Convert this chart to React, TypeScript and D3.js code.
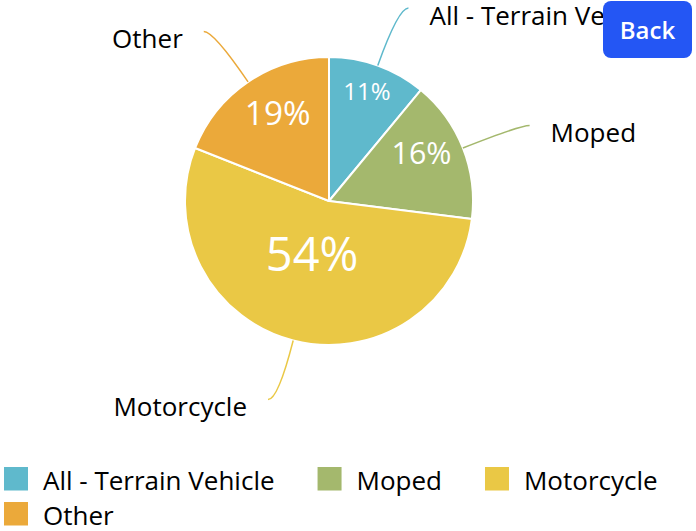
import { useEffect, useRef } from "react";
import * as d3 from "d3";

const categories = ["All - Terrain Vehicle", "Moped", "Motorcycle", "Other"];
const shares = [11, 16, 54, 19];
const colors = ["#5fb9cc", "#a4b86d", "#eac845", "#eba93a"];

// percentage label placement inside slices (radius px, angle nudge deg)
const pctLayout = [
  { r: 116, nudge: -0.7 },
  { r: 104, nudge: -5.6 },
  { r: 56, nudge: 3.2 },
  { r: 102, nudge: 4 },
];

const W = 696;
const H = 531;
const FONT = "'Open Sans', 'Noto Sans', sans-serif";

export default function App() {
  const svgRef = useRef<SVGSVGElement | null>(null);

  useEffect(() => {
    if (!svgRef.current) return;
    const svg = d3.select(svgRef.current);
    svg.selectAll("*").remove();

    const cx = 329;
    const cy = 201;
    const radius = 144;

    const pie = d3
      .pie<number>()
      .sort(null)
      .value((d) => d);
    const arcs = pie(shares);

    const arc = d3
      .arc<d3.PieArcDatum<number>>()
      .innerRadius(0)
      .outerRadius(radius);

    const g = svg.append("g").attr("transform", `translate(${cx},${cy})`);

    g.selectAll("path.slice")
      .data(arcs)
      .join("path")
      .attr("class", "slice")
      .attr("d", arc)
      .attr("fill", (_, i) => colors[i])
      .attr("stroke", "#fff")
      .attr("stroke-width", 2)
      .attr("stroke-linejoin", "round");

    const pt = (a: number, r: number): [number, number] => [
      r * Math.sin(a),
      -r * Math.cos(a),
    ];

    // percentage labels
    const totalShare = d3.sum(shares);
    const fontScale = d3.scaleLog().domain([11, 42]).range([24, 47]).clamp(true);
    g.selectAll("text.pct")
      .data(arcs)
      .join("text")
      .attr("class", "pct")
      .each(function (d, i) {
        const mid = (d.startAngle + d.endAngle) / 2 + (pctLayout[i].nudge * Math.PI) / 180;
        const [x, y] = pt(mid, pctLayout[i].r);
        const fs = fontScale(d.data);
        d3.select(this)
          .attr("x", x)
          .attr("y", y + fs * 0.36)
          .attr("font-size", fs);
      })
      .attr("text-anchor", "middle")
      .attr("fill", "#fff")
      .attr("font-family", FONT)
      .text((d) => `${Math.round((d.data / totalShare) * 100)}%`);

    // leader lines + outer labels
    const len1 = 61;
    const len2 = 10;
    arcs.forEach((d, i) => {
      const mid = (d.startAngle + d.endAngle) / 2;
      const p0 = pt(mid, radius);
      const p1 = pt(mid, radius + len1);
      const right = Math.sin(mid) >= 0;
      const p2: [number, number] = [p1[0] + (right ? len2 : -len2), p1[1]];
      const path = d3.path();
      path.moveTo(p0[0], p0[1]);
      path.quadraticCurveTo(p1[0], p1[1], p2[0], p2[1]);
      g.append("path")
        .attr("d", path.toString())
        .attr("fill", "none")
        .attr("stroke", colors[i])
        .attr("stroke-width", 1.5);

      g.append("text")
        .attr("x", p2[0] + (right ? 21 : -21))
        .attr("y", p2[1] + 16.5)
        .attr("text-anchor", right ? "start" : "end")
        .attr("font-family", FONT)
        .attr("font-size", 26)
        .attr("fill", "#000")
        .text(categories[i]);
    });

    // legend
    const ctx = document.createElement("canvas").getContext("2d")!;
    ctx.font = `26px ${FONT}`;
    const legend = svg.append("g");
    let lx = 4;
    let ly = 467;
    categories.forEach((c, i) => {
      const tw = ctx.measureText(c).width;
      const itemW = 24 + 15 + tw;
      if (lx + itemW > W - 4) {
        lx = 4;
        ly += 35;
      }
      legend
        .append("rect")
        .attr("x", lx)
        .attr("y", ly)
        .attr("width", 24)
        .attr("height", 23.5)
        .attr("fill", colors[i]);
      legend
        .append("text")
        .attr("x", lx + 39)
        .attr("y", ly + 22.5)
        .attr("font-family", FONT)
        .attr("font-size", 26)
        .attr("fill", "#000")
        .text(c);
      lx += itemW + 43;
    });

    // back button
    const btn = svg.append("g");
    btn
      .append("rect")
      .attr("x", 603)
      .attr("y", 1)
      .attr("width", 89)
      .attr("height", 57)
      .attr("rx", 8)
      .attr("fill", "#2456f4");
    btn
      .append("text")
      .attr("x", 647.5)
      .attr("y", 39)
      .attr("text-anchor", "middle")
      .attr("font-family", FONT)
      .attr("font-size", 24)
      .attr("font-weight", 600)
      .attr("fill", "#fff")
      .text("Back");
  }, []);

  return (
    <svg
      ref={svgRef}
      width={W}
      height={H}
      style={{ position: "fixed", left: 0, top: 0, background: "#fff" }}
    />
  );
}
